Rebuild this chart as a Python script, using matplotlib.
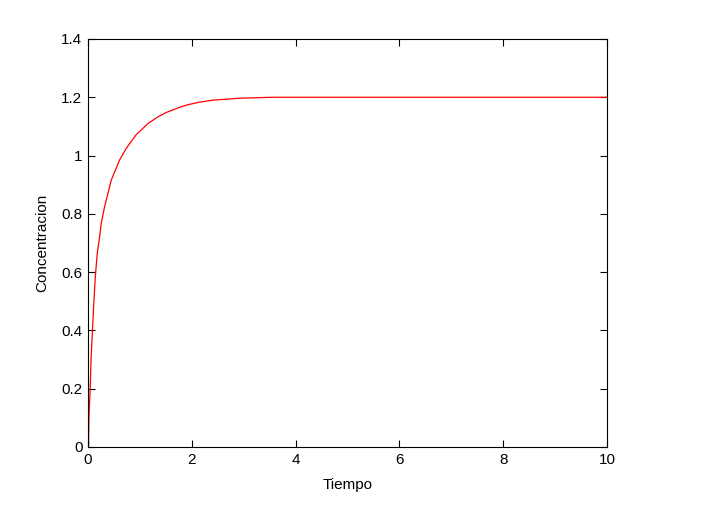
import matplotlib
matplotlib.use("Agg")
import matplotlib.pyplot as plt

# Curve
tiempo = [0.0, 0.012, 0.019, 0.044, 0.058, 0.083, 0.108, 0.141, 0.179, 0.224,
          0.256, 0.32, 0.449, 0.609, 0.738, 0.93, 1.156, 1.349, 1.509, 1.786,
          1.915, 2.14, 2.40, 2.62, 2.94, 3.55, 5.0, 7.5, 10.0]
concentracion = [0.018, 0.024, 0.104, 0.207, 0.299, 0.390, 0.481, 0.584, 0.665, 0.722,
                 0.768, 0.825, 0.916, 0.985, 1.025, 1.072, 1.110, 1.133, 1.148, 1.167,
                 1.174, 1.183, 1.190, 1.193, 1.197, 1.200, 1.200, 1.200, 1.200]

# short blue segment at t = 0
tiempo_b = [0.0, 0.0]
conc_b = [0.0, 0.02]

xticks = [0, 2, 4, 6, 8, 10]
yticks = [0, 0.2, 0.4, 0.6, 0.8, 1, 1.2, 1.4]
ytick_labels = ["0", "0.2", "0.4", "0.6", "0.8", "1", "1.2", "1.4"]

plt.rcParams['font.family'] = ['Liberation Sans', 'DejaVu Sans']
plt.rcParams['font.size'] = 11

fig = plt.figure(figsize=(7.28, 5.24), dpi=100)
ax = fig.add_axes([88 / 728, 77 / 524, 519 / 728, 408 / 524])

ax.plot(tiempo_b, conc_b, color='blue', linewidth=1)
ax.plot(tiempo, concentracion, color='red', linewidth=0.9)

ax.set_xlim(0, 10)
ax.set_ylim(0, 1.4)
ax.set_xticks(xticks)
ax.set_xticklabels([str(v) for v in xticks])
ax.set_yticks(yticks)
ax.set_yticklabels(ytick_labels)
ax.tick_params(direction='in', length=5, width=0.8, top=True, right=True,
               labelsize=11, colors='black', pad=4)
for s in ax.spines.values():
    s.set_linewidth(0.8)

ax.set_xlabel('Tiempo', fontsize=11, labelpad=8)
ax.set_ylabel('Concentracion', fontsize=11, labelpad=9)

fig.savefig('out.png', dpi=100)
